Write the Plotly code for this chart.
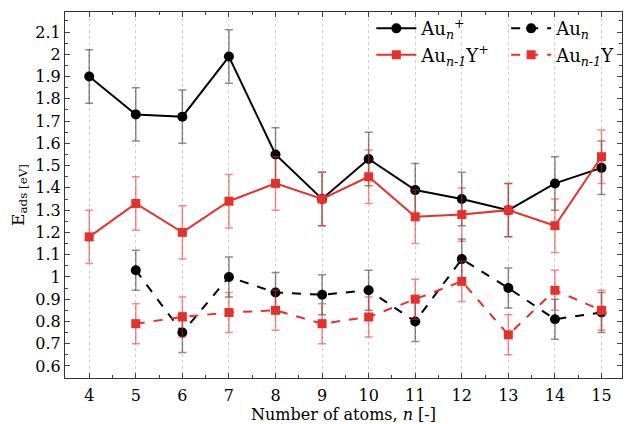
import plotly.graph_objects as go

n_all = [4, 5, 6, 7, 8, 9, 10, 11, 12, 13, 14, 15]
n_neu = [5, 6, 7, 8, 9, 10, 11, 12, 13, 14, 15]

au_cat = [1.90, 1.73, 1.72, 1.99, 1.55, 1.35, 1.53, 1.39, 1.35, 1.30, 1.42, 1.49]
auy_cat = [1.18, 1.33, 1.20, 1.34, 1.42, 1.35, 1.45, 1.27, 1.28, 1.30, 1.23, 1.54]
au_neu = [1.03, 0.75, 1.00, 0.93, 0.92, 0.94, 0.80, 1.08, 0.95, 0.81, 0.84]
auy_neu = [0.79, 0.82, 0.84, 0.85, 0.79, 0.82, 0.90, 0.98, 0.74, 0.94, 0.85]

err_cat = 0.12
err_neu = 0.09

names = ["Au<sub><i>n</i></sub><sup>+</sup>", "Au<sub><i>n</i></sub>",
         "Au<sub><i>n-1</i></sub>Y<sup>+</sup>", "Au<sub><i>n-1</i></sub>Y"]

ytick_vals = [0.6, 0.7, 0.8, 0.9, 1.0, 1.1, 1.2, 1.3, 1.4, 1.5, 1.6, 1.7, 1.8, 1.9, 2.0, 2.1]
ytick_text = ["0.6", "0.7", "0.8", "0.9", "1", "1.1", "1.2", "1.3", "1.4", "1.5",
              "1.6", "1.7", "1.8", "1.9", "2", "2.1"]

BLACK = "black"
RED = "rgb(232,48,42)"
font = "DejaVu Serif"

fig = go.Figure()

def add(x, y, err, name, color, ecolor, symbol, dash, legend):
    fig.add_trace(go.Scatter(
        x=x, y=y, name=name, mode="lines+markers", legend=legend,
        line=dict(color=color, width=2, dash=dash),
        marker=dict(color=color, size=10 if symbol == "circle" else 9, symbol=symbol),
        error_y=dict(type="constant", value=err, color=ecolor, thickness=1.5, width=4),
    ))

add(n_all, au_cat, err_cat, names[0], BLACK, "rgba(0,0,0,0.45)", "circle", "solid", "legend")
add(n_all, auy_cat, err_cat, names[2], RED, "rgba(232,48,42,0.55)", "square", "solid", "legend")
add(n_neu, au_neu, err_neu, names[1], BLACK, "rgba(0,0,0,0.45)", "circle", "dash", "legend2")
add(n_neu, auy_neu, err_neu, names[3], RED, "rgba(232,48,42,0.55)", "square", "dash", "legend2")

leg_common = dict(y=1.005, xanchor="left", yanchor="top", bgcolor="rgba(0,0,0,0)",
                  font=dict(size=18, family=font), itemwidth=40, tracegroupgap=0)

fig.update_layout(
    width=625, height=424,
    margin=dict(l=65, r=3, t=12, b=46),
    paper_bgcolor="white", plot_bgcolor="white",
    font=dict(family=font, size=16, color="black"),
    legend=dict(x=0.55, **leg_common),
    legend2=dict(x=0.792, **leg_common),
    showlegend=True,
)

fig.update_xaxes(
    range=[3.48, 15.44], tickvals=n_all, ticks="inside", ticklen=5,
    showline=True, linecolor="#333", linewidth=1, mirror="allticks",
    showgrid=True, gridcolor="#d0d0d0", griddash="dot", gridwidth=1,
    minor=dict(dtick=0.5, tick0=3.5, ticks="inside", ticklen=3, showgrid=False),
    zeroline=False, ticklabelstandoff=3,
    title=dict(text="Number of atoms, <i>n</i> [-]", standoff=0, font=dict(size=16)),
    tickfont=dict(size=16),
)
fig.update_yaxes(
    range=[0.546, 2.19], tickvals=ytick_vals, ticktext=ytick_text,
    ticks="inside", ticklen=5,
    showline=True, linecolor="#333", linewidth=1, mirror="allticks",
    showgrid=False, zeroline=False,
    minor=dict(dtick=0.05, tick0=0.55, ticks="inside", ticklen=3),
    title=dict(text="E<sub>ads [eV]</sub>", standoff=6, font=dict(size=17)),
    tickfont=dict(size=16),
)

fig.write_html("out.html")
